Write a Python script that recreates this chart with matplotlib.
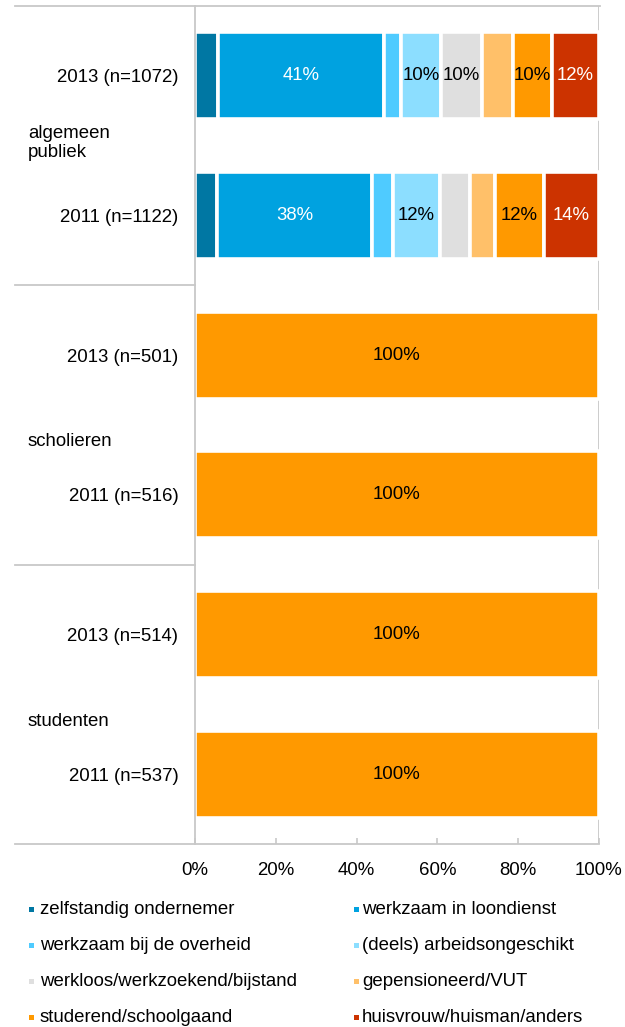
import matplotlib
matplotlib.use("Agg")
import matplotlib.pyplot as plt
from matplotlib.patches import Rectangle

plt.rcParams['font.family'] = ['Liberation Sans', 'DejaVu Sans']

categories = ["zelfstandig ondernemer", "werkzaam in loondienst",
              "werkzaam bij de overheid", "(deels) arbeidsongeschikt",
              "werkloos/werkzoekend/bijstand", "gepensioneerd/VUT",
              "studerend/schoolgaand", "huisvrouw/huisman/anders"]
colors = ["#0077A3", "#00A2E0", "#4FCBFF", "#8CDEFF",
          "#DFDFDF", "#FFC069", "#FF9900", "#CC3300"]
label_colors = ["white", "white", "black", "black", "black", "black", "black", "white"]

row_labels = ["2013 (n=1072)", "2011 (n=1122)", "2013 (n=501)",
              "2011 (n=516)", "2013 (n=514)", "2011 (n=537)"]
groups = ["algemeen\npubliek", "scholieren", "studenten"]

ap_2013 = [5.6, 41.3, 4.2, 9.8, 10.2, 7.6, 9.7, 11.6]
ap_2011 = [5.5, 38.2, 5.3, 11.6, 7.4, 6.2, 12.2, 13.6]
sch_2013 = [0, 0, 0, 0, 0, 0, 100, 0]
sch_2011 = [0, 0, 0, 0, 0, 0, 100, 0]
stu_2013 = [0, 0, 0, 0, 0, 0, 100, 0]
stu_2011 = [0, 0, 0, 0, 0, 0, 100, 0]
rows = [ap_2013, ap_2011, sch_2013, sch_2011, stu_2013, stu_2011]

W, H = 625, 1027
fig = plt.figure(figsize=(W / 100, H / 100), dpi=100)
ax = fig.add_axes([195 / W, 1 - 844 / H, (599 - 195) / W, (844 - 6) / H])

gray = "#C8C8C8"
fs = 13.4

# 100% gridline behind bars
ax.axvline(100, color=gray, lw=1.3, zorder=0)

for i, vals in enumerate(rows):
    left = 0
    for j, v in enumerate(vals):
        if v <= 0:
            continue
        ax.barh(i, v, left=left, height=0.625, color=colors[j],
                edgecolor="white", linewidth=2.6, zorder=2)
        if v >= 9.5:
            ax.text(left + v / 2, i, f"{v:.0f}%", ha="center", va="center",
                    color=label_colors[j], fontsize=fs, zorder=3)
        left += v

ax.set_xlim(0, 100)
ax.set_ylim(5.5, -0.5)
ax.set_xticks([0, 20, 40, 60, 80, 100])
ax.set_xticklabels([f"{t}%" for t in [0, 20, 40, 60, 80, 100]], fontsize=fs)
ax.tick_params(axis="x", direction="in", length=4, color=gray, width=1.2, pad=13)
ax.set_yticks(range(len(row_labels)))
ax.set_yticklabels(row_labels, fontsize=fs)
ax.tick_params(axis="y", length=0, pad=12)

for s in ["top", "right"]:
    ax.spines[s].set_visible(False)
for s in ["left", "bottom"]:
    ax.spines[s].set_color(gray)
    ax.spines[s].set_linewidth(1.3)

# extended lines into label area
span = 599 - 195
xl = (15 - 195) / span * 100
xr = (600 - 195) / span * 100
ax.plot([xl, xr], [-0.5, -0.5], color=gray, lw=1.3, clip_on=False, zorder=1)
ax.plot([xl, 0], [5.5, 5.5], color=gray, lw=1.3, clip_on=False, zorder=1)
for yb in [1.5, 3.5]:
    ax.plot([xl, 0], [yb, yb], color=gray, lw=1.3, clip_on=False, zorder=1)

gx = (28 - 195) / span * 100
group_y = [0.48, 2.62, 4.62]
for g, gy in zip(groups, group_y):
    ax.text(gx, gy, g, ha="left", va="center", fontsize=fs, linespacing=1.15)

# legend
leg_rows = [909, 945, 981.5, 1017.5]
col_marker = [29, 354]
col_text = [40, 362]
for k, (cat, col) in enumerate(zip(categories, colors)):
    r, c = divmod(k, 2)
    y = leg_rows[r]
    fig.add_artist(Rectangle((col_marker[c] / W, 1 - (y + 2.5) / H), 5 / W, 5 / H,
                             transform=fig.transFigure, color=col, lw=0))
    fig.text(col_text[c] / W, 1 - y / H, cat, ha="left", va="center", fontsize=fs)

fig.savefig("out.png", dpi=100)
